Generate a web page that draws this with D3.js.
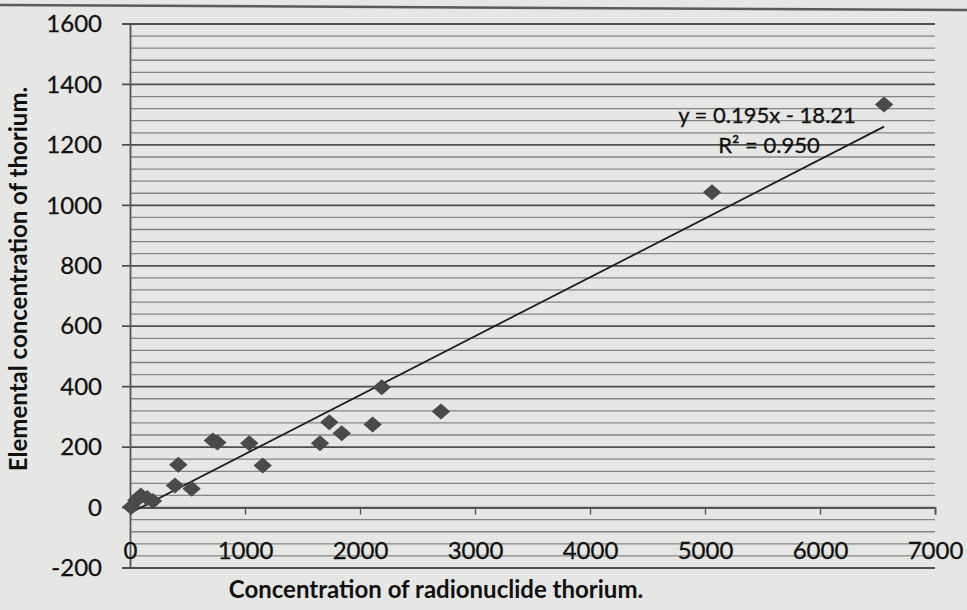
<!DOCTYPE html>
<html>
<head>
<meta charset="utf-8">
<script src="https://cdn.jsdelivr.net/npm/d3@7"></script>
<style>
  html, body { margin: 0; padding: 0; background: #e6e6e4; }
  svg { display: block; }
</style>
</head>
<body>
<svg id="chart" width="967" height="610"></svg>
<script>
// Radionuclide vs elemental thorium concentrations
const radionuclideTh = [10, 55, 95, 150, 200, 391, 420, 536, 720, 760, 1037, 1154, 1652, 1733, 1841, 2110, 2189, 2704, 5061, 6557];
const elementalTh    = [2, 24, 40, 32, 22, 73, 142, 62, 222, 215, 213, 139, 213, 282, 246, 275, 398, 318, 1043, 1334];

// Linear fit as printed on the chart
const fitSlope = 0.195;
const fitIntercept = -18.21;
const fitLabel = ["y = 0.195x - 18.21", "R² = 0.950"];

const xTicks = [0, 1000, 2000, 3000, 4000, 5000, 6000, 7000];
const yTicks = [-200, 0, 200, 400, 600, 800, 1000, 1200, 1400, 1600];
const yMinorStep = 40;

const xTitle = "Concentration of radionuclide thorium.";
const yTitle = "Elemental concentration of thorium.";

const svg = d3.select("#chart");
const W = 967, H = 610;
const plotLeft = 130, plotRight = 935, plotTop = 24, plotBottom = 568;

const x = d3.scaleLinear().domain([0, 7000]).range([plotLeft, plotRight]);
const y = d3.scaleLinear().domain([-200, 1600]).range([plotBottom, plotTop]);

const font = "Lato, 'Open Sans', sans-serif";
const plainNumber = d => String(d);

// page border at the top
svg.append("line")
  .attr("x1", 0).attr("y1", 5).attr("x2", W).attr("y2", 10)
  .attr("stroke", "#5a5a5a").attr("stroke-width", 2.5);

// horizontal gridlines: minor every 40, major every 200
const minor = d3.range(-200, 1600 + 1, yMinorStep).filter(v => v % 200 !== 0);
svg.append("g").selectAll("line").data(minor).join("line")
  .attr("x1", plotLeft).attr("x2", plotRight)
  .attr("y1", d => y(d)).attr("y2", d => y(d))
  .attr("stroke", "#858585").attr("stroke-width", 1.3);

svg.append("g").selectAll("line").data(yTicks).join("line")
  .attr("x1", plotLeft - 8).attr("x2", plotRight)
  .attr("y1", d => y(d)).attr("y2", d => y(d))
  .attr("stroke", "#4e4e4e").attr("stroke-width", 1.8);

// y axis
const yAxis = d3.axisLeft(y).tickValues(yTicks).tickSize(0).tickPadding(28).tickFormat(plainNumber);
const yg = svg.append("g").attr("transform", `translate(${plotLeft},0)`).call(yAxis);
yg.select(".domain").attr("stroke", "#555").attr("stroke-width", 1.8);
yg.selectAll("text").attr("font-family", font).attr("font-size", 24).attr("fill", "#111")
  .attr("stroke", "#111").attr("stroke-width", 0.3);

// x axis sits at y = 0
const xAxis = d3.axisBottom(x).tickValues(xTicks).tickSize(7).tickPadding(27).tickFormat(plainNumber);
const xg = svg.append("g").attr("transform", `translate(0,${y(0)})`).call(xAxis);
xg.select(".domain").attr("stroke", "#555").attr("stroke-width", 1.8);
xg.selectAll(".tick line").attr("stroke", "#555").attr("stroke-width", 1.4);
xg.selectAll("text").attr("font-family", font).attr("font-size", 24).attr("fill", "#111")
  .attr("stroke", "#111").attr("stroke-width", 0.3);

// fit line across the data range
const xExtent = d3.extent(radionuclideTh);
svg.append("line")
  .attr("x1", x(0)).attr("y1", y(fitSlope * 0 + fitIntercept))
  .attr("x2", x(xExtent[1])).attr("y2", y(fitSlope * xExtent[1] + fitIntercept))
  .attr("stroke", "#1e1e1e").attr("stroke-width", 1.8);

// points as slightly wide diamonds
const wideDiamond = {
  draw(ctx, size) {
    const h = Math.sqrt(size) / 2, w = h * 1.15;
    ctx.moveTo(0, -h); ctx.lineTo(w, 0); ctx.lineTo(0, h); ctx.lineTo(-w, 0); ctx.closePath();
  }
};
const diamond = d3.symbol().type(wideDiamond).size(256);
svg.append("g").selectAll("path").data(radionuclideTh.map((v, i) => [v, elementalTh[i]])).join("path")
  .attr("d", diamond)
  .attr("transform", d => `translate(${x(d[0])},${y(d[1])})`)
  .attr("fill", "#4a4a4a");

// fit equation label
const eqStyle = s => s.attr("text-anchor", "middle").attr("font-family", font).attr("font-size", 22)
  .attr("fill", "#111").attr("stroke", "#111").attr("stroke-width", 0.3);
svg.append("text").attr("x", 767).attr("y", 123).call(eqStyle).text(fitLabel[0]);
svg.append("text").attr("x", 769).attr("y", 153).call(eqStyle).text(fitLabel[1]);

// axis titles
svg.append("text").attr("x", 436).attr("y", 598).attr("text-anchor", "middle")
  .attr("font-family", font).attr("font-weight", "bold").attr("font-size", 24).attr("fill", "#111").text(xTitle);
svg.append("text").attr("transform", "translate(27,279) rotate(-90)").attr("text-anchor", "middle")
  .attr("font-family", font).attr("font-weight", "bold").attr("font-size", 24).attr("fill", "#111").text(yTitle);
</script>
</body>
</html>
